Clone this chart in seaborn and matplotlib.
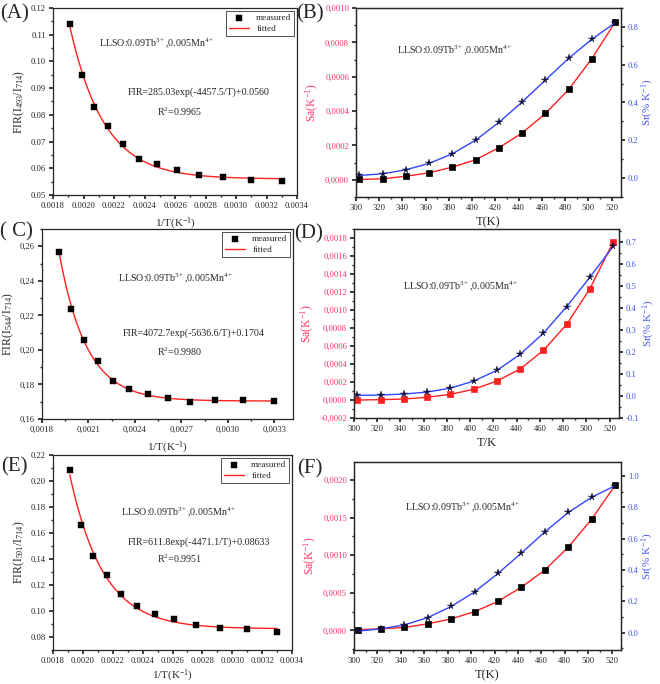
import numpy as np
import pandas as pd
import seaborn as sns
import matplotlib
matplotlib.use("Agg")
import matplotlib.pyplot as plt
from matplotlib.ticker import FuncFormatter, AutoMinorLocator, MultipleLocator

# ---------------- data ----------------
T = [303, 323, 343, 363, 383, 403, 423, 443, 463, 483, 503, 523]
invT = [1.0 / t for t in T]

fir_A = [0.0552, 0.0558, 0.0566, 0.0576, 0.0595, 0.0615, 0.0635, 0.069, 0.076, 0.0828, 0.095, 0.114]
fir_C = [0.1705, 0.1710, 0.1708, 0.1700, 0.1722, 0.1742, 0.1775, 0.182, 0.1935, 0.2055, 0.2235, 0.2565]
fir_E = [0.084, 0.086, 0.087, 0.089, 0.0937, 0.0975, 0.104, 0.113, 0.1275, 0.142, 0.166, 0.2085]

# fit parameters shown on the chart: FIR = A*exp(-B/T) + C
fit_A = (285.03, 4457.5, 0.0560)
fit_C = (4072.7, 5636.6, 0.1704)
fit_E = (611.8, 4471.1, 0.08633)

sa_B = [0.000002, 0.000006, 0.000021, 0.000041, 0.000074, 0.000117, 0.000187, 0.000273, 0.000386, 0.000526, 0.000706, 0.000918]
sr_B = [0.014, 0.023, 0.044, 0.078, 0.129, 0.201, 0.295, 0.403, 0.519, 0.634, 0.735, 0.822]
sa_D = [0.0, 0.0000037, 0.000011, 0.00003, 0.000063, 0.000119, 0.000211, 0.000344, 0.000552, 0.00084, 0.001237, 0.001756]
sr_D = [0.003, 0.0045, 0.009, 0.018, 0.036, 0.068, 0.117, 0.19, 0.286, 0.407, 0.541, 0.681]
sa_F = [0.0000088, 0.000022, 0.00004, 0.000088, 0.000154, 0.00025, 0.000387, 0.000576, 0.000804, 0.001108, 0.001481, 0.00193]
sr_F = [0.0105, 0.025, 0.05, 0.097, 0.168, 0.261, 0.379, 0.509, 0.644, 0.768, 0.865, 0.939]

label_text = "LLSO:0.09Tb$^{3+}$,0.005Mn$^{4+}$"

# ---------------- style ----------------
sns.set_theme(style="ticks")
SERIF = ["Liberation Serif", "DejaVu Serif"]
plt.rcParams["font.family"] = SERIF
plt.rcParams["mathtext.fontset"] = "custom"
plt.rcParams["mathtext.rm"] = "Liberation Serif"
plt.rcParams["mathtext.it"] = "Liberation Serif:italic"
plt.rcParams["axes.linewidth"] = 0.9
plt.rcParams["xtick.major.size"] = 3
plt.rcParams["ytick.major.size"] = 3
plt.rcParams["xtick.minor.size"] = 1.5
plt.rcParams["ytick.minor.size"] = 1.5
plt.rcParams["xtick.major.pad"] = 2
plt.rcParams["ytick.major.pad"] = 2

W, H = 660, 684
fig = plt.figure(figsize=(W / 100, H / 100), dpi=100)

RED = "#ff2020"
BLUE = "#3344ff"
SA_COL = "#ff3366"
SR_COL = "#4455ee"
TICK_FS = 6.2
LAB_FS = 8
ANN_FS = 7.2


def add_ax(l, r, t, b):
    return fig.add_axes([l / W, 1 - b / H, (r - l) / W, (b - t) / H])


def ftxt(x, y, s, **kw):
    fig.text(x / W, 1 - y / H, s, **kw)


def comma_fmt(nd):
    return FuncFormatter(lambda v, p: (f"{v:.{nd}f}").replace(".", ","))


def dot_fmt(nd):
    return FuncFormatter(lambda v, p: f"{v:.{nd}f}")


def fir_panel(rect, y, fit, xlim, ylim, xstep, ystep, xnd, ynd, comma, ylabel, xlabpad=4):
    ax = add_ax(*rect)
    df = pd.DataFrame({"x": invT, "y": y})
    xs = np.linspace(min(invT), max(invT), 300)
    curve = fit[0] * np.exp(-fit[1] * xs) + fit[2]
    dfc = pd.DataFrame({"x": xs, "y": curve})
    sns.scatterplot(data=df, x="x", y="y", ax=ax, marker="s", color="black", s=17,
                    edgecolor="black", linewidth=0.3, label="measured", zorder=3)
    sns.lineplot(data=dfc, x="x", y="y", ax=ax, color=RED, lw=1.0, label="fitted", zorder=2)
    ax.set_xlim(*xlim)
    ax.set_ylim(*ylim)
    ax.xaxis.set_major_locator(MultipleLocator(xstep))
    ax.yaxis.set_major_locator(MultipleLocator(ystep))
    ax.xaxis.set_minor_locator(AutoMinorLocator(2))
    ax.yaxis.set_minor_locator(AutoMinorLocator(2))
    f = comma_fmt if comma else dot_fmt
    ax.xaxis.set_major_formatter(f(xnd))
    ax.yaxis.set_major_formatter(f(ynd))
    ax.tick_params(labelsize=TICK_FS, which="both", direction="out")
    ax.set_xlabel("1/T(K$^{-1}$)", fontsize=LAB_FS, labelpad=xlabpad)
    ax.set_ylabel(ylabel, fontsize=LAB_FS + 0.5, labelpad=3)
    leg = ax.legend(loc="upper right", fontsize=6.6, frameon=True, fancybox=False,
                    edgecolor="black", borderpad=0.3, handlelength=2.2, labelspacing=0.3,
                    borderaxespad=0.3)
    leg.get_frame().set_linewidth(0.6)
    return ax


def s_panel(rect, sa, sr, ylim_l, ylim_r, ystep_l, ystep_r, xlabel, red_face):
    ax = add_ax(*rect)
    ax2 = ax.twinx()
    dfa = pd.DataFrame({"T": T, "v": sa})
    dfr = pd.DataFrame({"T": T, "v": sr})
    sns.lineplot(data=dfa, x="T", y="v", ax=ax, color=RED, lw=1.0, marker="s",
                 markersize=4.5, markerfacecolor=red_face,
                 markeredgecolor="black" if red_face == "black" else RED,
                 markeredgewidth=0.5)
    sns.lineplot(data=dfr, x="T", y="v", ax=ax2, color=BLUE, lw=1.0, marker="*",
                 markersize=5.5, markerfacecolor="#111133", markeredgecolor="#111133",
                 markeredgewidth=0.3)
    ax.set_xlim(300, 528)
    ax.set_ylim(*ylim_l)
    ax2.set_ylim(*ylim_r)
    ax.xaxis.set_major_locator(MultipleLocator(20))
    ax.xaxis.set_minor_locator(AutoMinorLocator(2))
    ax.yaxis.set_major_locator(MultipleLocator(ystep_l))
    ax.yaxis.set_minor_locator(AutoMinorLocator(2))
    ax2.yaxis.set_major_locator(MultipleLocator(ystep_r))
    ax2.yaxis.set_minor_locator(AutoMinorLocator(2))
    ax.yaxis.set_major_formatter(comma_fmt(4))
    ax2.yaxis.set_major_formatter(dot_fmt(1))
    ax.xaxis.set_major_formatter(dot_fmt(0))
    ax.tick_params(labelsize=TICK_FS, which="both", direction="out")
    ax.tick_params(axis="y", labelcolor=SA_COL, which="both")
    ax2.tick_params(labelsize=TICK_FS, which="both", direction="out", labelcolor=SR_COL)
    ax.set_xlabel(xlabel, fontsize=LAB_FS + 1, labelpad=3)
    ax.set_ylabel("Sa(K$^{-1}$)", fontsize=LAB_FS + 0.5, color=SA_COL, labelpad=3)
    ax2.set_ylabel("Sr(% K$^{-1}$)", fontsize=LAB_FS, color=SR_COL, labelpad=1)
    return ax, ax2


# ---------------- panels ----------------
fir_panel((53, 297, 8, 195), fir_A, fit_A, (0.0018, 0.0034), (0.05, 0.12), 0.0002, 0.01, 4, 2, False,
          "FIR(I$_{493}$/I$_{714}$)")
fir_panel((42, 293, 229, 419), fir_C, fit_C, (0.0018, 0.00342), (0.16, 0.27), 0.0003, 0.02, 4, 2, True,
          "FIR(I$_{544}$/I$_{714}$)")
fir_panel((53, 292, 455, 650), fir_E, fit_E, (0.0018, 0.0034), (0.07, 0.22), 0.0002, 0.02, 4, 2, False,
          "FIR(I$_{591}$/I$_{714}$)", xlabpad=2)

s_panel((356, 621, 8, 197), sa_B, sr_B, (-0.0001, 0.001), (-0.1, 0.9), 0.0002, 0.2, "T(K)", "black")
s_panel((354, 619, 229, 418), sa_D, sr_D, (-0.0002, 0.0019), (-0.1, 0.76), 0.0002, 0.1, "T/K", RED)
s_panel((354, 621, 462, 650), sa_F, sr_F, (-0.00026, 0.00224), (-0.11, 1.09), 0.0005, 0.2, "T(K)", "black")

# ---------------- annotations ----------------
ann = dict(fontsize=ANN_FS, va="center", ha="left")
ftxt(99, 43, label_text, **ann)
ftxt(128, 92, "FIR=285.03exp(-4457.5/T)+0.0560", **ann)
ftxt(157, 112, "R$^{2}$=0.9965", **ann)

ftxt(397, 50, label_text, **ann)

ftxt(118, 278, label_text, **ann)
ftxt(123, 333, "FIR=4072.7exp(-5636.6/T)+0.1704", **ann)
ftxt(157, 352, "R$^{2}$=0.9980", **ann)

ftxt(403, 286, label_text, **ann)

ftxt(121, 512, label_text, **ann)
ftxt(128, 542, "FIR=611.8exp(-4471.1/T)+0.08633", **ann)
ftxt(157, 559, "R$^{2}$=0.9951", **ann)

ftxt(405, 507, label_text, **ann)

pl = dict(fontsize=15, va="center", ha="left")
ftxt(0, 14, "(A)", **pl)
ftxt(296, 14, "(B)", **pl)
ftxt(0, 232, "( C)", **pl)
ftxt(294, 234, "(D)", **pl)
ftxt(1, 467, "(E)", **pl)
ftxt(297, 469, "(F)", **pl)

fig.savefig("out.png", dpi=100)
